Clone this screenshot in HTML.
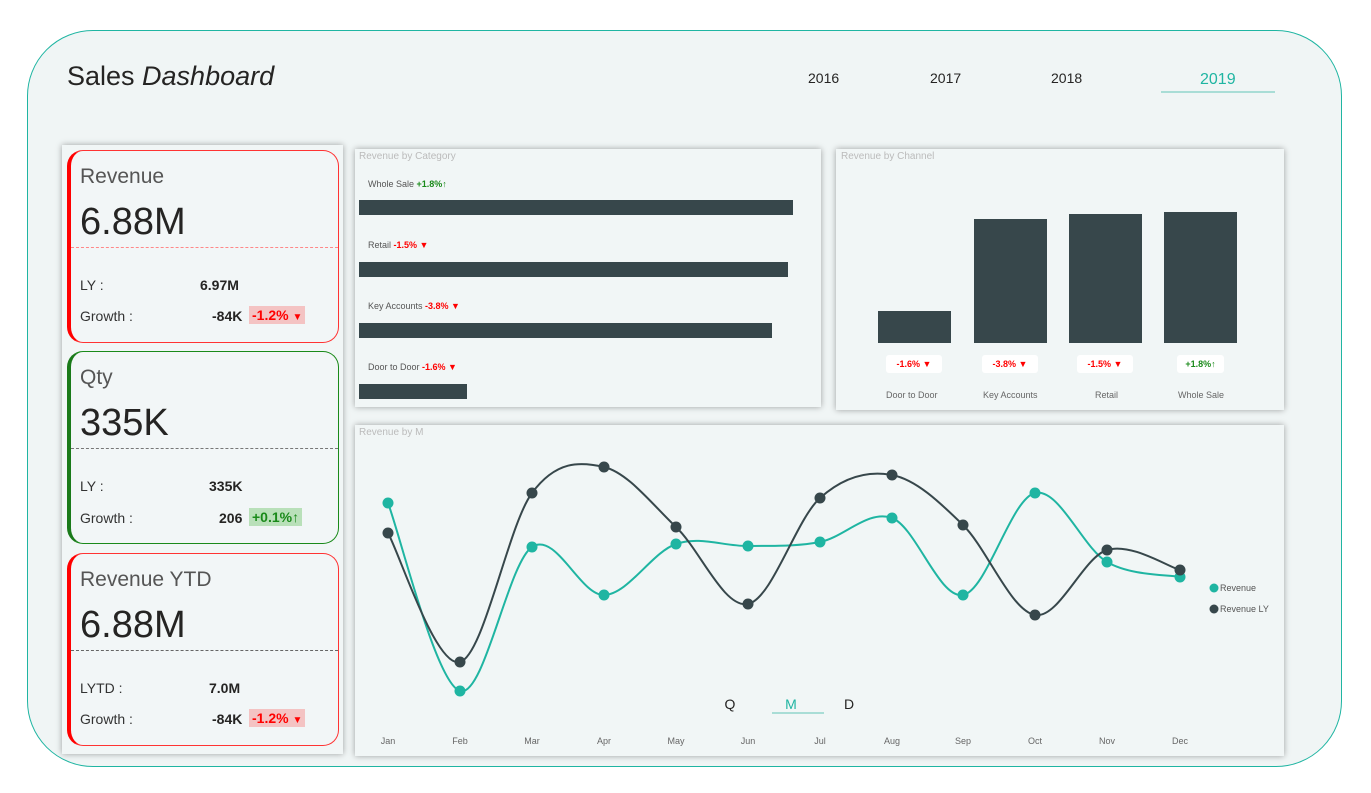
<!DOCTYPE html>
<html><head><meta charset="utf-8"><style>
*{margin:0;padding:0;box-sizing:border-box}
body{width:1371px;height:793px;background:#fff;font-family:"Liberation Sans",sans-serif;position:relative;overflow:hidden;color:#252423}
.abs{position:absolute}
.outer{left:27px;top:30px;width:1315px;height:737px;border:1.5px solid #1fb5a2;border-radius:66px;background:#f0f5f5}
.panel{background:#f1f6f6;box-shadow:0 0 6px rgba(0,0,0,.35)}
.card{position:absolute;left:67px;width:272px;border-radius:16px;background:#f2f6f7}
.card .t{position:absolute;left:9px;top:14px;font-size:21px;color:#555}
.card .v{position:absolute;left:9px;top:50px;font-size:38px;color:#252423}
.card .ln{position:absolute;left:0;right:0;top:96px;border-top:1px dashed}
.card .l1,.card .l2{position:absolute;left:9px;font-size:14px;color:#333}
.card .n1,.card .n2{position:absolute;font-size:14px;font-weight:bold;color:#252423}
.badge{position:absolute;font-size:14px;padding:1px 3px;font-weight:bold}
.ptitle{position:absolute;font-size:10px;color:#bbb}
.cat{position:absolute;left:368px;font-size:9px;color:#555}
.bar{position:absolute;background:#37474b}
.red{color:#f00}.grn{color:#1a8a1a}
</style></head><body>
<div class="abs outer"></div>
<div class="abs" style="left:67px;top:61px;font-size:27px;color:#252423">Sales <i>Dashboard</i></div>
<div class="abs" style="left:808px;top:70px;font-size:14px">2016</div>
<div class="abs" style="left:930px;top:70px;font-size:14px">2017</div>
<div class="abs" style="left:1051px;top:70px;font-size:14px">2018</div>
<div class="abs" style="left:1200px;top:71px;font-size:16px;color:#1fb5a2">2019</div>
<div class="abs" style="left:1161px;top:91px;width:114px;height:2px;background:#a9ddd6"></div>

<div class="abs panel" style="left:62px;top:145px;width:281px;height:609px"></div>
<div class="card" style="top:150px;height:193px;border:1px solid #f33;border-left:4px solid #f00">
 <div class="t">Revenue</div><div class="v">6.88M</div><div class="ln" style="border-color:#f88"></div>
 <div class="l1" style="top:126px">LY :</div><div class="n1" style="top:126px;left:129px">6.97M</div>
 <div class="l2" style="top:157px">Growth :</div><div class="n2" style="top:157px;left:141px">-84K</div>
 <div class="badge red" style="top:155px;left:178px;background:#f4c3c3">-1.2% <span style="font-size:10px">▼</span></div>
</div>
<div class="card" style="top:351px;height:193px;border:1px solid #1a8a1a;border-left:4px solid #1a7a1a">
 <div class="t">Qty</div><div class="v">335K</div><div class="ln" style="border-color:#777"></div>
 <div class="l1" style="top:126px">LY :</div><div class="n1" style="top:126px;left:138px">335K</div>
 <div class="l2" style="top:158px">Growth :</div><div class="n2" style="top:158px;left:148px">206</div>
 <div class="badge grn" style="top:156px;left:178px;background:#b9e0b9">+0.1%↑</div>
</div>
<div class="card" style="top:553px;height:193px;border:1px solid #f33;border-left:4px solid #f00">
 <div class="t">Revenue YTD</div><div class="v">6.88M</div><div class="ln" style="border-color:#666"></div>
 <div class="l1" style="top:126px">LYTD :</div><div class="n1" style="top:126px;left:138px">7.0M</div>
 <div class="l2" style="top:157px">Growth :</div><div class="n2" style="top:157px;left:141px">-84K</div>
 <div class="badge red" style="top:155px;left:178px;background:#f4c3c3">-1.2% <span style="font-size:10px">▼</span></div>
</div>

<div class="abs panel" style="left:355px;top:149px;width:466px;height:258px"></div>
<div class="ptitle" style="left:359px;top:151px">Revenue by Category</div>
<div class="cat" style="top:179px">Whole Sale <b class="grn">+1.8%↑</b></div>
<div class="bar" style="left:359px;top:200px;width:434px;height:15px"></div>
<div class="cat" style="top:240px">Retail <b class="red">-1.5% ▼</b></div>
<div class="bar" style="left:359px;top:262px;width:429px;height:15px"></div>
<div class="cat" style="top:301px">Key Accounts <b class="red">-3.8% ▼</b></div>
<div class="bar" style="left:359px;top:323px;width:413px;height:15px"></div>
<div class="cat" style="top:362px">Door to Door <b class="red">-1.6% ▼</b></div>
<div class="bar" style="left:359px;top:384px;width:108px;height:15px"></div>

<div class="abs panel" style="left:836px;top:149px;width:448px;height:261px"></div>
<div class="ptitle" style="left:841px;top:151px">Revenue by Channel</div>
<div class="bar" style="left:878px;top:311px;width:73px;height:32px"></div>
<div class="bar" style="left:974px;top:219px;width:73px;height:124px"></div>
<div class="bar" style="left:1069px;top:214px;width:73px;height:129px"></div>
<div class="bar" style="left:1164px;top:212px;width:73px;height:131px"></div>
<div class="abs" style="left:886px;top:355px;width:56px;height:18px;background:#fff;border-radius:3px;font-size:9px;text-align:center;line-height:18px"><b class="red">-1.6% ▼</b></div>
<div class="abs" style="left:982px;top:355px;width:56px;height:18px;background:#fff;border-radius:3px;font-size:9px;text-align:center;line-height:18px"><b class="red">-3.8% ▼</b></div>
<div class="abs" style="left:1077px;top:355px;width:56px;height:18px;background:#fff;border-radius:3px;font-size:9px;text-align:center;line-height:18px"><b class="red">-1.5% ▼</b></div>
<div class="abs" style="left:1177px;top:355px;width:47px;height:18px;background:#fff;border-radius:3px;font-size:9px;text-align:center;line-height:18px"><b class="grn">+1.8%↑</b></div>
<div class="abs" style="left:886px;top:390px;font-size:9px;color:#666">Door to Door</div>
<div class="abs" style="left:983px;top:390px;font-size:9px;color:#666">Key Accounts</div>
<div class="abs" style="left:1095px;top:390px;font-size:9px;color:#666">Retail</div>
<div class="abs" style="left:1178px;top:390px;font-size:9px;color:#666">Whole Sale</div>

<div class="abs panel" style="left:355px;top:425px;width:929px;height:331px"></div>
<div class="ptitle" style="left:359px;top:427px">Revenue by M</div>
<svg class="abs" style="left:0;top:0" width="1371" height="793" id="s">
<g font-family="Liberation Sans,sans-serif" font-size="9" fill="#666" text-anchor="middle" id="m"></g>
<circle cx="1214" cy="588" r="4.5" fill="#1fb5a2"/><text x="1220" y="591" font-size="9" fill="#555" font-family="Liberation Sans,sans-serif">Revenue</text>
<circle cx="1214" cy="609" r="4.5" fill="#37474b"/><text x="1220" y="612" font-size="9" fill="#555" font-family="Liberation Sans,sans-serif">Revenue LY</text>
<g font-family="Liberation Sans,sans-serif" font-size="14" text-anchor="middle"><text x="730" y="709" fill="#252423">Q</text><text x="791" y="709" fill="#1fb5a2">M</text><text x="849" y="709" fill="#252423">D</text></g>
<rect x="772" y="712" width="52" height="2" fill="#a9ddd6"/>
</svg>
<script>
var xs=[388,460,532,604,676,748,820,892,963,1035,1107,1180];
var r=[503,691,547,595,544,546,542,518,595,493,562,577];
var ly=[533,662,493,467,527,604,498,475,525,615,550,570];
var mn=["Jan","Feb","Mar","Apr","May","Jun","Jul","Aug","Sep","Oct","Nov","Dec"];
var s=document.getElementById('s'),ns="http://www.w3.org/2000/svg";
function path(ys,c){var d="M"+xs[0]+","+ys[0];for(var i=0;i<11;i++){var p0=i?i-1:0,p3=i<10?i+2:11;
var c1x=xs[i]+(xs[i+1]-xs[p0])/6,c1y=ys[i]+(ys[i+1]-ys[p0])/6,c2x=xs[i+1]-(xs[p3]-xs[i])/6,c2y=ys[i+1]-(ys[p3]-ys[i])/6;
d+=" C"+c1x+","+c1y+" "+c2x+","+c2y+" "+xs[i+1]+","+ys[i+1];}
var p=document.createElementNS(ns,"path");p.setAttribute("d",d);p.setAttribute("fill","none");p.setAttribute("stroke",c);p.setAttribute("stroke-width","2");s.appendChild(p);
for(i=0;i<12;i++){var k=document.createElementNS(ns,"circle");k.setAttribute("cx",xs[i]);k.setAttribute("cy",ys[i]);k.setAttribute("r","5.5");k.setAttribute("fill",c);s.appendChild(k);}}
path(r,"#1fb5a2");path(ly,"#37474b");
var g=document.getElementById('m');for(var i=0;i<12;i++){var t=document.createElementNS(ns,"text");t.setAttribute("x",xs[i]);t.setAttribute("y",744);t.textContent=mn[i];g.appendChild(t);}
</script>
</body></html>
